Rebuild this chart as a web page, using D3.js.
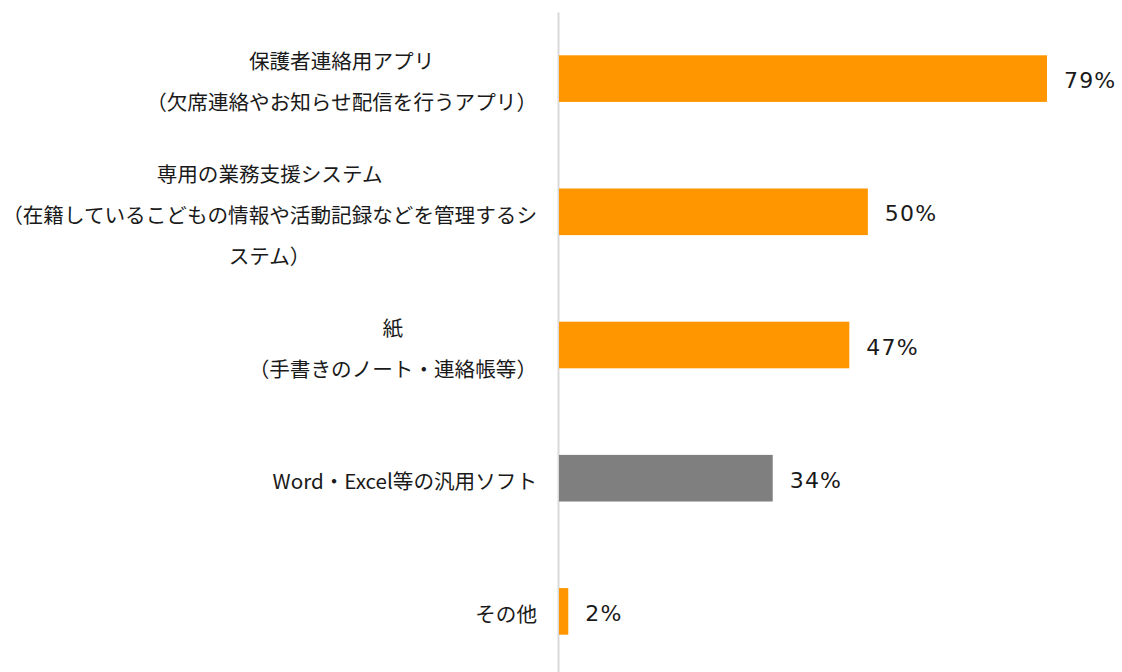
<!DOCTYPE html>
<html><head><meta charset="utf-8">
<script src="https://cdn.jsdelivr.net/npm/d3@7"></script>
<style>body{margin:0;background:#fff;overflow:hidden}</style>
</head><body>
<svg id="chart" width="1122" height="672"></svg>
<script>
const categories = [
  "保護者連絡用アプリ\n（欠席連絡やお知らせ配信を行うアプリ）",
  "専用の業務支援システム\n（在籍しているこどもの情報や活動記録などを管理するシ\nステム）",
  "紙\n（手書きのノート・連絡帳等）",
  "Word・Excel等の汎用ソフト",
  "その他"
];
const values = [79, 50, 47, 34.6, 1.5];
const valueLabels = ["79%", "50%", "47%", "34%", "2%"];
const highlighted = "Word・Excel等の汎用ソフト";

const svg = d3.select("#chart");
const x0 = 559;
const x = d3.scaleLinear().domain([0, 100]).range([x0, x0 + 617.7]);
const y = d3.scaleBand().domain(categories).range([12, 678]).paddingInner(0.65).paddingOuter(0.325);
const color = c => c === highlighted ? "#7f7f7f" : "#ff9600";

// axis line
const ax = svg.append("g").attr("transform", `translate(${x0 - 1},0)`)
  .call(d3.axisLeft(y).tickSize(0).tickFormat(""));
ax.select(".domain").attr("stroke", "#d9d9d9").attr("stroke-width", 2);

// bars
svg.append("g").selectAll("rect").data(categories).join("rect")
  .attr("x", x(0))
  .attr("y", d => y(d))
  .attr("width", (d, i) => x(values[i]) - x(0))
  .attr("height", y.bandwidth())
  .attr("fill", d => color(d));

// value labels
svg.append("g").selectAll("text").data(categories).join("text")
  .attr("x", (d, i) => x(values[i]) + 17)
  .attr("y", d => y(d) + y.bandwidth() / 2 + 2)
  .attr("dominant-baseline", "central")
  .attr("font-family", "'DejaVu Sans', sans-serif")
  .attr("font-size", 22)
  .attr("letter-spacing", 1.2)
  .attr("fill", "#1a1a1a")
  .text((d, i) => valueLabels[i]);

// category labels
const labelRight = 537;
const lh = 41;
const lg = svg.append("g");
categories.forEach(c => {
  const lines = c.split("\n");
  const g = lg.append("g");
  const texts = lines.map((ln, i) => g.append("text")
    .attr("font-family", "'Noto Sans CJK JP', sans-serif")
    .attr("font-size", 20.6)
    .attr("fill", "#1a1a1a")
    .attr("text-anchor", "middle")
    .attr("dominant-baseline", "central")
    .attr("y", y(c) + y.bandwidth() / 2 + 2 + (i - (lines.length - 1) / 2) * lh)
    .text(ln));
  const maxW = d3.max(texts, t => t.node().getComputedTextLength());
  texts.forEach(t => t.attr("x", labelRight - maxW / 2));
});
</script>
</body></html>
